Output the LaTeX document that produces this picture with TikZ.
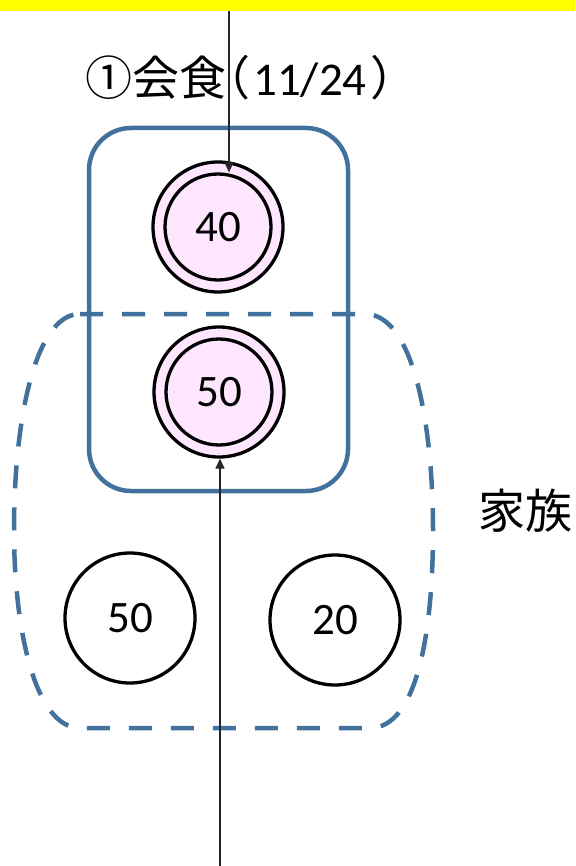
\documentclass[tikz,border=0pt]{standalone}
\usepackage{fontspec}
\setmainfont{Carlito}
\newfontfamily\cjk{Noto Sans CJK JP}
\usetikzlibrary{arrows.meta}
\definecolor{grpblue}{HTML}{41719C}
\definecolor{mealpink}{HTML}{FFE6FF}
\definecolor{bandyellow}{HTML}{FFFF00}
\begin{document}
\begin{tikzpicture}[x=1pt,y=-1pt,
  person/.style={circle, draw=black, line width=3.3pt, minimum size=130pt, inner sep=0pt},
  personin/.style={circle, draw=black, line width=3.3pt, minimum size=106pt, inner sep=0pt,
    font=\fontsize{45}{50}\selectfont},
  label/.style={inner sep=0pt, font=\fontsize{47}{52}\selectfont},
  grpsolid/.style={draw=grpblue, line width=4.5pt, rounded corners=42pt},
  grpdash/.style={draw=grpblue, line width=4.5pt, dash pattern=on 23pt off 19pt},
  flow/.style={draw=black!85, line width=1.3pt, -{Triangle[length=10pt,width=9pt]}}]
\useasboundingbox (0,0) rectangle (575,866);
% header band
\fill[bandyellow] (0,0) rectangle (575,11);

% family group (dashed outline)
\draw[grpdash] (80,314) -- (365,314)
  .. controls (415,314) and (433,430) .. (433,530)
  .. controls (433,640) and (415,728) .. (370,728)
  -- (80,728)
  .. controls (35,728) and (14,630) .. (14,530)
  .. controls (14,420) and (35,314) .. (80,314) -- cycle;

% dinner group (solid outline)
\draw[grpsolid] (89,128) rectangle (348,491);

% members of the dinner
\node[person, fill=mealpink] (mealA) at (218,227) {};
\node[personin] (mealAin) at (mealA) {40};
\node[person, fill=mealpink] (mealB) at (219,392) {};
\node[personin] (mealBin) at (mealB) {50};

% other family members
\node[person, font=\fontsize{45}{50}\selectfont] (famA) at (130,618) {50};
\node[person, font=\fontsize{45}{50}\selectfont] (famB) at (335,620) {20};

% labels
\node[label, anchor=west] (titleA) at (85,78)
  {{\cjk ①会食}\hspace{-23pt}{\cjk （}\hspace{3pt}11/24\hspace{4pt}{\cjk ）}};
\node[label] (famlabel) at (525,511) {\cjk 家族};

% flows
\coordinate (topIn) at (229,11);
\coordinate (bottomIn) at (220,866);
\draw[flow] (topIn) -- (topIn |- mealAin.north);
\draw[flow] (bottomIn) -- (bottomIn |- mealB.south);
\end{tikzpicture}
\end{document}
